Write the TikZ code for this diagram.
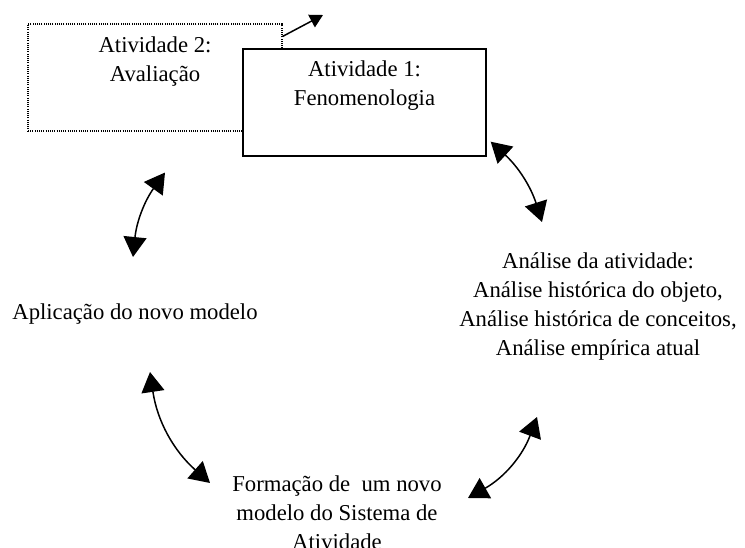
\documentclass[tikz,border=0pt]{standalone}
\usepackage{fontspec}
\setmainfont{Liberation Serif}
\usetikzlibrary{arrows.meta}
\tikzstyle{activity} = [rectangle, minimum width=243pt, minimum height=107pt, inner sep=0pt, draw=black, line width=1.4pt, fill=white]
\tikzstyle{sketch} = [rectangle, minimum width=254pt, minimum height=107pt, inner sep=0pt, draw=black, line width=1.1pt, dash pattern=on 1pt off 1.2pt]
\tikzstyle{phase} = [align=center, inner sep=0pt]
\tikzstyle{arrow} = [line width=1.5pt, {Triangle[length=20pt,width=23pt]}-{Triangle[length=20pt,width=23pt]}]
\tikzstyle{pointer} = [line width=1.5pt, -{Triangle[length=13pt,width=14pt]}]

\begin{document}
\begin{tikzpicture}[x=1pt, y=-1pt, font=\fontsize{22.7}{29}\selectfont]
          \useasboundingbox (0,0) rectangle (745,548);
          \node (aval) [sketch]   at (155,77.5)  {\parbox[c][107pt][t]{254pt}{\centering\rule{0pt}{29pt}Atividade 2:\\Avaliação}}; %
          \node (feno) [activity] at (364.5,102.5) {\parbox[c][107pt][t]{243pt}{\centering\rule{0pt}{28pt}Atividade 1:\\Fenomenologia}}; %
          \node (anal) [phase] at (598,307) {Análise da atividade:\\Análise histórica do objeto,\\Análise histórica de conceitos,\\Análise empírica atual}; %
          \node (form) [phase] at (337,513) {Formação de\ \ um novo\\modelo do Sistema de\\Atividade}; %
          \node (apli) [phase] at (135,314) {Aplicação do novo modelo}; %
          \coordinate (fora) at (323,15);

          %% Connections
          \draw [pointer] ([yshift=-13pt]aval.north east) -- (fora); %
          \draw [arrow] ([shift={(4,-15)}]feno.south east) to[bend left=15] ([shift={(-56,-85)}]anal.center); %
          \draw [arrow] ([shift={(-61,110)}]anal.center) to[bend left=20] ([shift={(131,-15)}]form.center); %
          \draw [arrow] ([shift={(-127,-30)}]form.center) to[bend left=20] ([shift={(15,58)}]apli.center); %
          \draw [arrow] ([shift={(-2,-57)}]apli.center) to[bend left=15] ([shift={(10,41)}]aval.south); %
        \end{tikzpicture}
\end{document}
